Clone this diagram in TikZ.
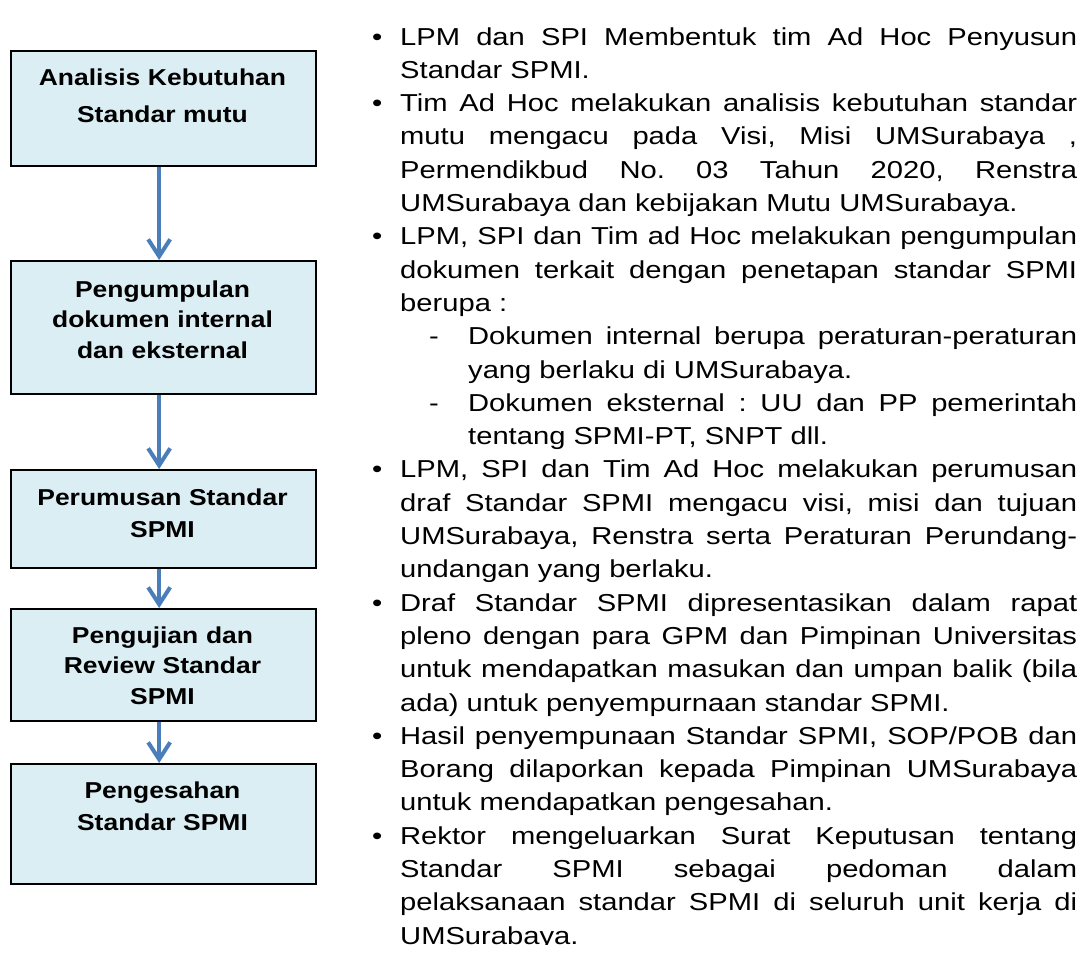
\documentclass[tikz,border=0pt]{standalone}
\usepackage{fontspec}
\setmainfont{Liberation Sans}
\newfontfamily\boxfont[FakeStretch=1.15]{Liberation Sans}
\newfontfamily\bodyfont[FakeStretch=1.19]{Liberation Sans}
\usetikzlibrary{arrows.meta}
\definecolor{boxfill}{HTML}{DBEEF4}
\definecolor{arrowblue}{HTML}{4A7EBB}
\newcommand\bitem{\par\leftskip=0pt\noindent\llap{\makebox[28pt][l]{\textbullet}}}
\newcommand\ditem{\par\leftskip=68pt\noindent\llap{\makebox[39pt][l]{-}}}
\begin{document}
\begin{tikzpicture}[x=1pt,y=-1pt,
  stepbox/.style={draw=black, line width=2.3pt, fill=boxfill, minimum width=305pt, anchor=north west, inner sep=0pt},
  boxtext/.style={anchor=base, text width=300pt, align=center, inner sep=0pt},
  flow/.style={draw=arrowblue, line width=4pt, -{Straight Barb[length=17pt,width=22pt]}}]
\fill[white] (0,0) rectangle (1087,967);
\useasboundingbox (0,0) rectangle (1087,967);

% boxes
\node[stepbox, minimum height=115pt] (b1) at (10,50) {};
\node[stepbox, minimum height=133pt] (b2) at (10,260) {};
\node[stepbox, minimum height=98pt]  (b3) at (10,469) {};
\node[stepbox, minimum height=112pt] (b4) at (10,608) {};
\node[stepbox, minimum height=120pt] (b5) at (10,763) {};

% box texts
\node[boxtext, font=\boxfont\bfseries\fontsize{23}{37}\selectfont] (t1) at (162.5,85) {Analisis Kebutuhan\\Standar mutu};
\node[boxtext, font=\boxfont\bfseries\fontsize{23}{30.5}\selectfont] (t2) at (162.5,297) {Pengumpulan\\dokumen internal\\dan eksternal};
\node[boxtext, font=\boxfont\bfseries\fontsize{23}{32}\selectfont] (t3) at (162.5,505) {Perumusan Standar\\SPMI};
\node[boxtext, font=\boxfont\bfseries\fontsize{23}{30.5}\selectfont] (t4) at (162.5,643) {Pengujian dan\\Review Standar\\SPMI};
\node[boxtext, font=\boxfont\bfseries\fontsize{23}{32}\selectfont] (t5) at (162.5,798) {Pengesahan\\Standar SPMI};

% arrows
\draw[flow] ([xshift=-4.5pt]b1.south) -- ([xshift=-4.5pt]b2.north);
\draw[flow] ([xshift=-4.5pt]b2.south) -- ([xshift=-4.5pt]b3.north);
\draw[flow] ([xshift=-4.5pt]b3.south) -- ([xshift=-4.5pt]b4.north);
\draw[flow] ([xshift=-4.5pt]b4.south) -- ([xshift=-4.5pt]b5.north);

% right text
\begin{scope}
\clip (0,0) rectangle (1087,944.6);
\node[anchor=base west, inner sep=0pt, font=\bodyfont\fontsize{24.5}{33.3}\selectfont] (txt) at (400,45) {%
\begin{minipage}[t]{677pt}
\frenchspacing
\parskip=0pt\parindent=0pt\rightskip=0pt\leftskip=0pt\parfillskip=0pt plus 1fil\relax
\tolerance=10000\hyphenpenalty=10000\exhyphenpenalty=10000\relax
\noindent\llap{\makebox[28pt][l]{\textbullet}}LPM dan SPI Membentuk tim Ad Hoc Penyusun\linebreak
Standar SPMI.
\bitem Tim Ad Hoc melakukan analisis kebutuhan standar\linebreak
mutu mengacu pada Visi, Misi UMSurabaya ,\linebreak
Permendikbud No. 03 Tahun 2020, Renstra\linebreak
UMSurabaya dan kebijakan Mutu UMSurabaya.
\bitem LPM, SPI dan Tim ad Hoc melakukan pengumpulan\linebreak
dokumen terkait dengan penetapan standar SPMI\linebreak
berupa :
\ditem Dokumen internal berupa peraturan-peraturan\linebreak
yang berlaku di UMSurabaya.
\ditem Dokumen eksternal : UU dan PP pemerintah\linebreak
tentang SPMI-PT, SNPT dll.
\bitem LPM, SPI dan Tim Ad Hoc melakukan perumusan\linebreak
draf Standar SPMI mengacu visi, misi dan tujuan\linebreak
UMSurabaya, Renstra serta Peraturan Perundang-\linebreak
undangan yang berlaku.
\bitem Draf Standar SPMI dipresentasikan dalam rapat\linebreak
pleno dengan para GPM dan Pimpinan Universitas\linebreak
untuk mendapatkan masukan dan umpan balik (bila\linebreak
ada) untuk penyempurnaan standar SPMI.
\bitem Hasil penyempunaan Standar SPMI, SOP/POB dan\linebreak
Borang dilaporkan kepada Pimpinan UMSurabaya\linebreak
untuk mendapatkan pengesahan.
\bitem Rektor mengeluarkan Surat Keputusan tentang\linebreak
Standar SPMI sebagai pedoman dalam\linebreak
pelaksanaan standar SPMI di seluruh unit kerja di\linebreak
UMSurabaya.\par
\end{minipage}};
\end{scope}
\end{tikzpicture}
\end{document}
